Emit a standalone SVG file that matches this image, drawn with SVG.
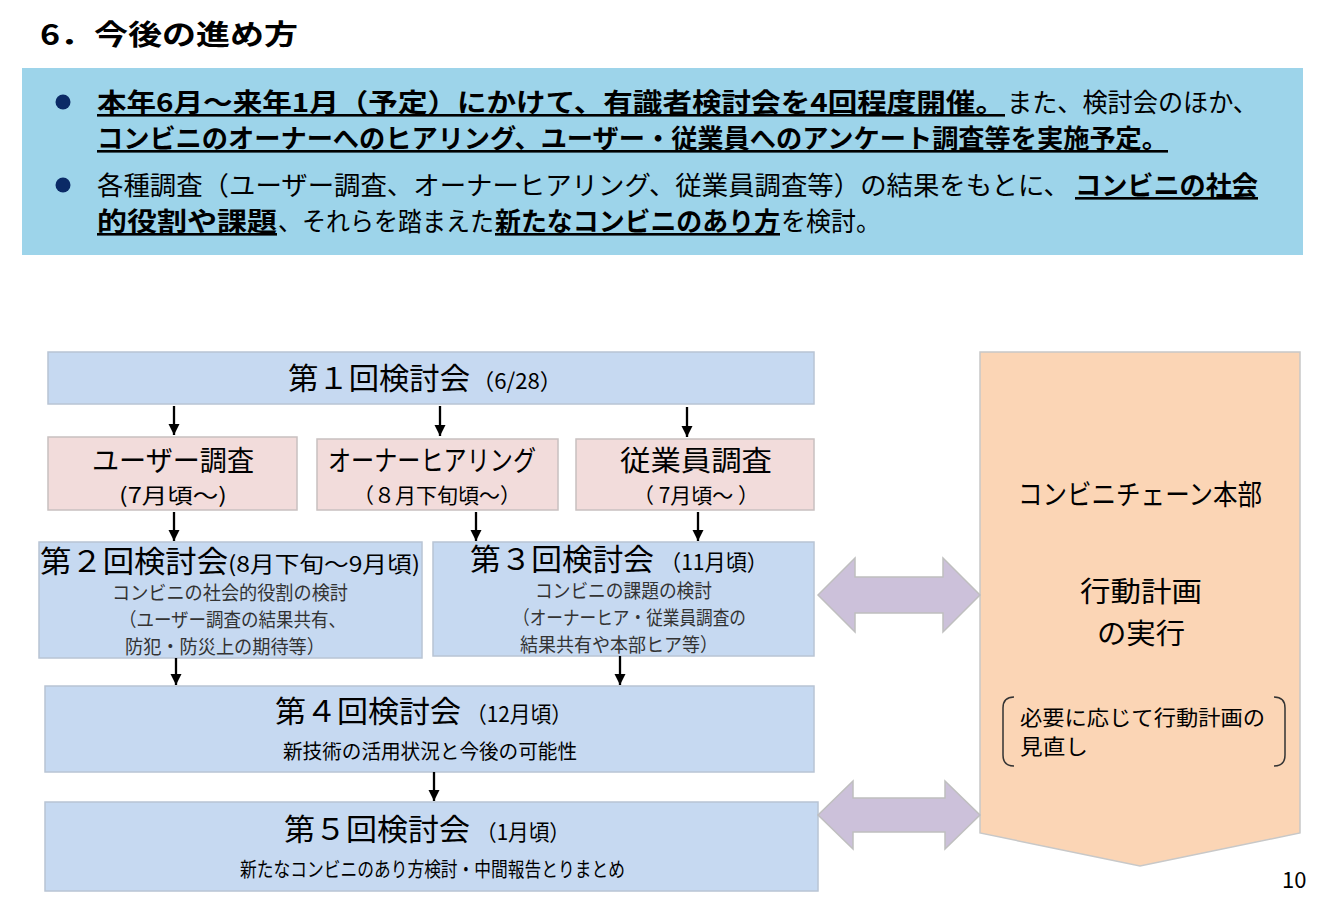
<svg xmlns="http://www.w3.org/2000/svg" width="1323" height="907" viewBox="0 0 1323 907">
<defs>
<style>
text{font-family:"Noto Sans CJK JP","Noto Sans",sans-serif;fill:#000}
.b{font-weight:bold}
.u{text-decoration:underline}
.box{fill:#c6d9f1;stroke:#b8c4d4;stroke-width:1.5}
.pink{fill:#f2dcdb;stroke:#c8c0c0;stroke-width:1.5}
.t30{font-size:30px}
.t28{font-size:28px}
.t22{font-size:22px}
.t21{font-size:21px}
.sub{font-size:19px;fill:#333}
.ban{font-size:26px}
.conn{stroke:#000;stroke-width:2.3;fill:none;marker-end:url(#ah)}
.dbl{fill:#ccc1da;stroke:#bfbfbf;stroke-width:1.5}
</style>
<marker id="ah" viewBox="0 0 10 10" refX="10" refY="5" markerWidth="5" markerHeight="5" orient="auto" markerUnits="strokeWidth">
<path d="M0,0 L10,5 L0,10 z" fill="#000"/>
</marker>
</defs>
<rect width="1323" height="907" fill="#fff"/>

<g id="title">
<text x="40" y="45" class="b" font-size="28" textLength="258" lengthAdjust="spacingAndGlyphs">6．今後の進め方</text>
</g>

<g id="banner">
<rect x="22" y="68" width="1281" height="187" fill="#9dd4ea"/>
<circle cx="63" cy="102" r="7.5" fill="#0b2a66"/>
<circle cx="63" cy="185" r="7.5" fill="#0b2a66"/>
<text x="97" y="112" class="ban b u" textLength="908" lengthAdjust="spacingAndGlyphs">本年6月～来年1月（予定）にかけて、有識者検討会を4回程度開催。</text>
<text x="1007" y="112" class="ban" textLength="251" lengthAdjust="spacingAndGlyphs">また、検討会のほか、</text>
<text x="97" y="148" class="ban b u" textLength="1071" lengthAdjust="spacingAndGlyphs">コンビニのオーナーへのヒアリング、ユーザー・従業員へのアンケート調査等を実施予定。</text>
<text x="97" y="195" class="ban" textLength="973" lengthAdjust="spacingAndGlyphs">各種調査（ユーザー調査、オーナーヒアリング、従業員調査等）の結果をもとに、</text>
<text x="1075" y="195" class="ban b u" textLength="183" lengthAdjust="spacingAndGlyphs">コンビニの社会</text>
<text x="97" y="231" class="ban b u" textLength="180" lengthAdjust="spacingAndGlyphs">的役割や課題</text>
<text x="278" y="231" class="ban" textLength="216" lengthAdjust="spacingAndGlyphs">、それらを踏まえた</text>
<text x="495" y="231" class="ban b u" textLength="285" lengthAdjust="spacingAndGlyphs">新たなコンビニのあり方</text>
<text x="781" y="231" class="ban" textLength="100" lengthAdjust="spacingAndGlyphs">を検討。</text>
</g>

<g id="n1">
<rect x="48" y="352" width="766" height="52" class="box"/>
<text x="288" y="389" class="t30" textLength="182" lengthAdjust="spacingAndGlyphs">第１回検討会</text>
<text x="472" y="389" class="t22" textLength="90" lengthAdjust="spacingAndGlyphs">（6/28）</text>
</g>

<g id="nUser">
<rect x="48" y="437" width="249" height="73" class="pink"/>
<text x="92" y="471" class="t28" textLength="162" lengthAdjust="spacingAndGlyphs">ユーザー調査</text>
<text x="119" y="503" class="t21" textLength="108" lengthAdjust="spacingAndGlyphs">(7月頃～)</text>
</g>

<g id="nOwner">
<rect x="317" y="439" width="241" height="71" class="pink"/>
<text x="328" y="471" class="t28" textLength="208" lengthAdjust="spacingAndGlyphs">オーナーヒアリング</text>
<text x="353" y="503" class="t21" textLength="168" lengthAdjust="spacingAndGlyphs">（８月下旬頃～）</text>
</g>

<g id="nStaff">
<rect x="576" y="439" width="238" height="71" class="pink"/>
<text x="620" y="471" class="t28" textLength="152" lengthAdjust="spacingAndGlyphs">従業員調査</text>
<text x="633" y="503" class="t21" textLength="126" lengthAdjust="spacingAndGlyphs">（ 7月頃～ ）</text>
</g>

<g id="n2">
<rect x="39" y="542" width="383" height="116" class="box"/>
<text x="40" y="572" class="t30" textLength="188" lengthAdjust="spacingAndGlyphs">第２回検討会</text>
<text x="228" y="572" class="t22" textLength="192" lengthAdjust="spacingAndGlyphs">(8月下旬～9月頃)</text>
<text x="112" y="600" class="sub" textLength="236" lengthAdjust="spacingAndGlyphs">コンビニの社会的役割の検討</text>
<text x="119" y="627" class="sub" textLength="227" lengthAdjust="spacingAndGlyphs">（ユーザー調査の結果共有、</text>
<text x="125" y="654" class="sub" textLength="200" lengthAdjust="spacingAndGlyphs">防犯・防災上の期待等）</text>
</g>

<g id="n3">
<rect x="433" y="542" width="381" height="114" class="box"/>
<text x="470" y="570" class="t30" textLength="184" lengthAdjust="spacingAndGlyphs">第３回検討会</text>
<text x="660" y="570" class="t22" textLength="108" lengthAdjust="spacingAndGlyphs">（11月頃）</text>
<text x="535" y="598" class="sub" textLength="177" lengthAdjust="spacingAndGlyphs">コンビニの課題の検討</text>
<text x="513" y="625" class="sub" textLength="233" lengthAdjust="spacingAndGlyphs">（オーナーヒア・従業員調査の</text>
<text x="520" y="652" class="sub" textLength="198" lengthAdjust="spacingAndGlyphs">結果共有や本部ヒア等）</text>
</g>

<g id="n4">
<rect x="45" y="686" width="769" height="86" class="box"/>
<text x="275" y="722" class="t30" textLength="186" lengthAdjust="spacingAndGlyphs">第４回検討会</text>
<text x="466" y="722" class="t22" textLength="106" lengthAdjust="spacingAndGlyphs">（12月頃）</text>
<text x="283" y="759" font-size="20" fill="#222" textLength="294" lengthAdjust="spacingAndGlyphs">新技術の活用状況と今後の可能性</text>
</g>

<g id="n5">
<rect x="45" y="802" width="773" height="89" class="box"/>
<text x="284" y="840" class="t30" textLength="186" lengthAdjust="spacingAndGlyphs">第５回検討会</text>
<text x="476" y="840" class="t22" textLength="94" lengthAdjust="spacingAndGlyphs">（1月頃）</text>
<text x="240" y="877" font-size="20" fill="#222" textLength="385" lengthAdjust="spacingAndGlyphs">新たなコンビニのあり方検討・中間報告とりまとめ</text>
</g>

<g id="hq">
<path d="M980,352 L1300,352 L1300,833 L1140,866 L980,833 Z" fill="#fbd5b5" stroke="#c8c8c8" stroke-width="1.5"/>
<text x="1018" y="505" font-size="28" textLength="244" lengthAdjust="spacingAndGlyphs">コンビニチェーン本部</text>
<text x="1080" y="602" font-size="28" textLength="122" lengthAdjust="spacingAndGlyphs">行動計画</text>
<text x="1097" y="644" font-size="28" textLength="88" lengthAdjust="spacingAndGlyphs">の実行</text>
<path d="M1014,697 Q1003,697 1003,708 L1003,755 Q1003,766 1014,766" fill="none" stroke="#333" stroke-width="1.5"/>
<path d="M1274,697 Q1285,697 1285,708 L1285,755 Q1285,766 1274,766" fill="none" stroke="#333" stroke-width="1.5"/>
<text x="1020" y="725" font-size="21" fill="#222" textLength="245" lengthAdjust="spacingAndGlyphs">必要に応じて行動計画の</text>
<text x="1020" y="754" font-size="21" fill="#222" textLength="68" lengthAdjust="spacingAndGlyphs">見直し</text>
</g>

<g id="connectors">
<line x1="174" y1="406" x2="174" y2="435" class="conn"/>
<line x1="440" y1="406" x2="440" y2="436" class="conn"/>
<line x1="687" y1="407" x2="687" y2="437" class="conn"/>
<line x1="174" y1="512" x2="174" y2="541" class="conn"/>
<line x1="476" y1="512" x2="476" y2="541" class="conn"/>
<line x1="698" y1="512" x2="698" y2="541" class="conn"/>
<line x1="176" y1="658" x2="176" y2="685" class="conn"/>
<line x1="620" y1="656" x2="620" y2="685" class="conn"/>
<line x1="434" y1="772" x2="434" y2="801" class="conn"/>
<path class="dbl" d="M818,595 L855,558 L855,577 L943,577 L943,558 L980,595 L943,632 L943,613 L855,613 L855,632 Z"/>
<path class="dbl" d="M818,815 L853,781 L853,798 L945,798 L945,781 L980,815 L945,849 L945,832 L853,832 L853,849 Z"/>
</g>

<g id="page">
<text x="1282" y="888" font-size="22" font-family="Liberation Sans, sans-serif">10</text>
</g>
</svg>
